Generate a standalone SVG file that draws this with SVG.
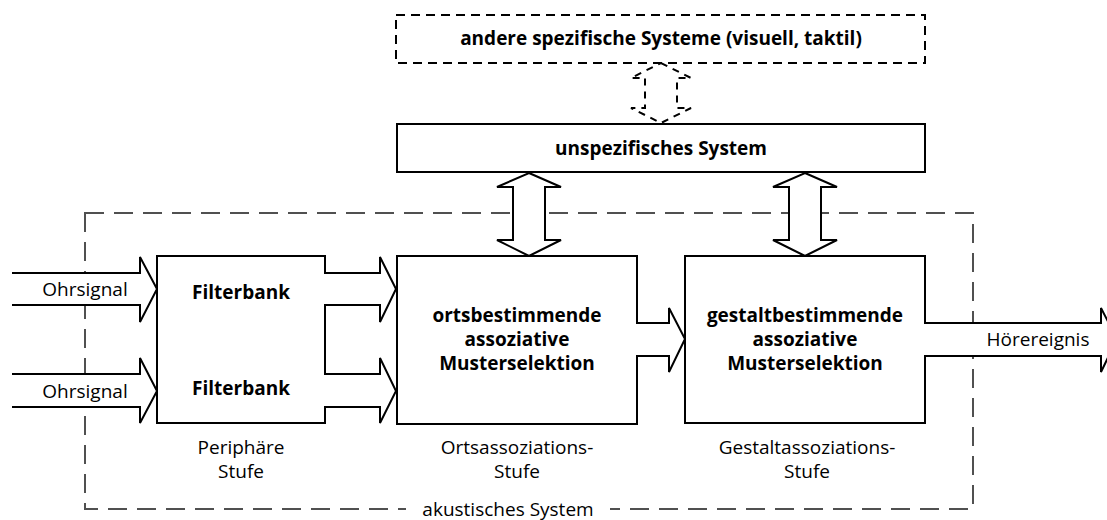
<svg xmlns="http://www.w3.org/2000/svg" width="1107" height="520" viewBox="0 0 1107 520">
  <style>
    .box { fill: #fff; stroke: #000; stroke-width: 2; }
    .dbox { fill: #fff; stroke: #000; stroke-width: 2; stroke-dasharray: 9 6; }
    .frame { fill: none; stroke: #505050; stroke-width: 2; stroke-dasharray: 19 10; }
    .arrow { fill: #fff; stroke: #000; stroke-width: 2; stroke-linejoin: miter; }
    .darrow { fill: #fff; stroke: #000; stroke-width: 2; stroke-dasharray: 7 6; }
    text { font-family: "Open Sans", "Noto Sans", sans-serif; font-size: 19px; fill: #000; text-anchor: middle; }
    .b { font-weight: bold; }
  </style>

  <!-- acoustic system frame -->
  <g id="akustisches-system">
    <rect class="frame" x="85" y="213" width="888" height="296"/>
    <rect x="406" y="498" width="204" height="22" fill="#fff"/>
    <text x="508" y="516">akustisches System</text>
  </g>

  <g id="andere-systeme">
    <rect class="dbox" x="396" y="15" width="529" height="48"/>
    <text class="b" x="661" y="45">andere spezifische Systeme (visuell, taktil)</text>
  </g>

  <g id="unspezifisches-system">
    <rect class="box" x="397" y="124" width="528" height="48"/>
    <text class="b" x="661" y="155">unspezifisches System</text>
  </g>

  <g id="filterbank">
    <rect class="box" x="157" y="256" width="168" height="167"/>
    <text class="b" x="241" y="299">Filterbank</text>
    <text class="b" x="241" y="395">Filterbank</text>
    <text x="241" y="454">Periphäre</text>
    <text x="241" y="478">Stufe</text>
  </g>

  <g id="ortsbestimmung">
    <rect class="box" x="397" y="256" width="240" height="168"/>
    <text class="b" x="517" y="322">ortsbestimmende</text>
    <text class="b" x="517" y="346">assoziative</text>
    <text class="b" x="517" y="370">Musterselektion</text>
    <text x="517" y="454">Ortsassoziations-</text>
    <text x="517" y="478">Stufe</text>
  </g>

  <g id="gestaltbestimmung">
    <rect class="box" x="685" y="256" width="240" height="167"/>
    <text class="b" x="805" y="322">gestaltbestimmende</text>
    <text class="b" x="805" y="346">assoziative</text>
    <text class="b" x="805" y="370">Musterselektion</text>
    <text x="807" y="454">Gestaltassoziations-</text>
    <text x="807" y="478">Stufe</text>
  </g>

  <g id="connectors">
    <!-- dashed link between specific and unspecific systems -->
    <polygon class="darrow" points="661,63 691,78 677,78 677,108 691,108 661,123 631,108 645,108 645,78 631,78"/>
    <!-- links from the unspecific system down to the stages -->
    <polygon class="arrow" points="529,173 561,187 545,187 545,240 561,240 529,256 497,240 513,240 513,187 497,187"/>
    <polygon class="arrow" points="805,173 837,187 821,187 821,240 837,240 805,256 773,240 789,240 789,187 773,187"/>
    <!-- ear signals in -->
    <path class="arrow" d="M12,273 H140 V257 L157,289 L140,322 V305 H12"/>
    <path class="arrow" d="M12,374 H140 V358 L157,391 L140,423 V407 H12"/>
    <!-- filter bank outputs -->
    <path class="arrow" d="M324,273 H380 V257 L396,289 L380,322 V305 H324"/>
    <path class="arrow" d="M324,374 H380 V358 L396,391 L380,423 V407 H324"/>
    <!-- stage to stage -->
    <path class="arrow" d="M636,323 H669 V308 L685,339 L669,372 V356 H636"/>
    <!-- auditory event out -->
    <path class="arrow" d="M924,323 H1101 V308 L1117,339 L1101,372 V356 H924"/>
    <text x="85" y="296">Ohrsignal</text>
    <text x="85" y="398">Ohrsignal</text>
    <text x="1038" y="346">Hörereignis</text>
  </g>
</svg>
